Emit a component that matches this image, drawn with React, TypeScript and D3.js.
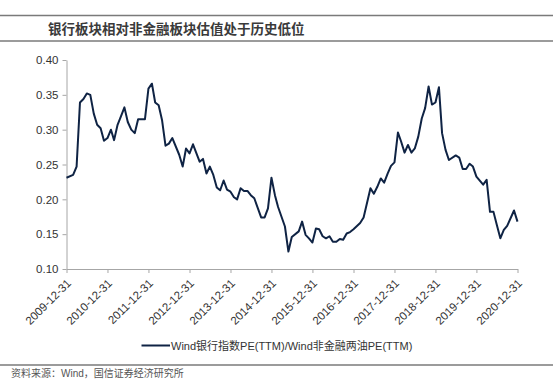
import React, { useEffect, useRef } from 'react'
import * as d3 from 'd3'

// month (end of month) and Wind bank PE / non-financial ex-oil PE
const months = [
  '2009-12', '2010-02', '2010-03', '2010-04', '2010-05', '2010-06', '2010-07', '2010-08', '2010-09', '2010-10', '2010-11', '2010-12',
  '2011-01', '2011-02', '2011-03', '2011-04', '2011-05', '2011-06', '2011-07', '2011-08', '2011-09', '2011-11', '2011-12',
  '2012-01', '2012-02', '2012-03', '2012-04', '2012-05', '2012-06', '2012-07', '2012-09', '2012-10', '2012-11', '2012-12',
  '2013-01', '2013-03', '2013-04', '2013-05', '2013-06', '2013-07', '2013-08', '2013-09', '2013-10', '2013-11', '2013-12',
  '2014-01', '2014-02', '2014-03', '2014-04', '2014-05', '2014-06', '2014-07', '2014-09', '2014-10', '2014-11', '2014-12',
  '2015-01', '2015-02', '2015-04', '2015-05', '2015-06', '2015-08', '2015-09', '2015-10', '2015-11', '2015-12',
  '2016-01', '2016-02', '2016-03', '2016-04', '2016-05', '2016-06', '2016-07', '2016-08', '2016-09', '2016-10', '2016-11', '2016-12',
  '2017-02', '2017-03', '2017-05', '2017-06', '2017-07', '2017-08', '2017-09', '2017-10', '2017-11', '2017-12',
  '2018-01', '2018-02', '2018-03', '2018-04', '2018-05', '2018-06', '2018-07', '2018-08', '2018-09', '2018-10', '2018-11', '2018-12',
  '2019-01', '2019-02', '2019-03', '2019-04', '2019-06', '2019-07', '2019-08', '2019-09', '2019-10', '2019-11', '2019-12',
  '2020-02', '2020-03', '2020-04', '2020-05', '2020-06', '2020-07', '2020-08', '2020-09', '2020-11', '2020-12',
]

const ratio = [
  0.231, 0.235, 0.247, 0.339, 0.344, 0.352, 0.350, 0.323, 0.307, 0.302, 0.284, 0.288,
  0.300, 0.285, 0.307, 0.319, 0.332, 0.311, 0.300, 0.295, 0.315, 0.315, 0.359,
  0.366, 0.339, 0.335, 0.314, 0.277, 0.280, 0.288, 0.264, 0.247, 0.273, 0.266,
  0.279, 0.254, 0.258, 0.237, 0.247, 0.235, 0.217, 0.213, 0.227, 0.214, 0.211,
  0.203, 0.200, 0.216, 0.212, 0.212, 0.206, 0.2015, 0.174, 0.174, 0.187, 0.231,
  0.206, 0.189, 0.161, 0.125, 0.146, 0.154, 0.168, 0.149, 0.144, 0.138,
  0.158, 0.157, 0.147, 0.144, 0.147, 0.139, 0.139, 0.143, 0.142, 0.151, 0.153, 0.157,
  0.166, 0.174, 0.216, 0.208, 0.218, 0.230, 0.224, 0.237, 0.248, 0.253,
  0.296, 0.283, 0.267, 0.278, 0.267, 0.273, 0.290, 0.316, 0.331, 0.362, 0.336, 0.339,
  0.361, 0.295, 0.271, 0.2565, 0.263, 0.260, 0.2435, 0.2435, 0.251, 0.247, 0.2325,
  0.221, 0.228, 0.182, 0.182, 0.163, 0.144, 0.156, 0.162, 0.184, 0.168,
]

const yTicks = [0.1, 0.15, 0.2, 0.25, 0.3, 0.35, 0.4]
const yearEnds = ['2009-12-31', '2010-12-31', '2011-12-31', '2012-12-31', '2013-12-31', '2014-12-31',
  '2015-12-31', '2016-12-31', '2017-12-31', '2018-12-31', '2019-12-31', '2020-12-31']

const title = '银行板块相对非金融板块估值处于历史低位'
const legendLabel = 'Wind银行指数PE(TTM)/Wind非金融两油PE(TTM)'
const source = '资料来源：Wind，国信证券经济研究所'

const W = 553
const H = 390
const latin = 'Arial, "Liberation Sans", sans-serif'
const cjk = '"Liberation Sans", "Noto Sans CJK SC", sans-serif'

const monthEnd = (s: string) => {
  const [y, m] = s.split('-').map(Number)
  return new Date(y, m, 0)
}
const parseDay = d3.timeParse('%Y-%m-%d')

export default function App() {
  const ref = useRef<SVGSVGElement>(null)

  useEffect(() => {
    const svg = d3.select(ref.current)
    svg.selectAll('*').remove()

    const ticks = yearEnds.map(d => parseDay(d) as Date)
    const x = d3.scaleTime()
      .domain([ticks[0], ticks[ticks.length - 1]])
      .range([66.5, 517.5])
    const y = d3.scaleLinear().domain([0.1, 0.4]).range([269, 60])

    svg.append('rect').attr('width', W).attr('height', H).attr('fill', '#fff')

    // header rules and title
    svg.append('line').attr('x1', 0).attr('x2', W).attr('y1', 15.5).attr('y2', 15.5)
      .attr('stroke', '#7a7a7a').attr('stroke-width', 1.5)
    svg.append('line').attr('x1', 0).attr('x2', W).attr('y1', 41).attr('y2', 41)
      .attr('stroke', '#7a7a7a').attr('stroke-width', 1.5)
    svg.append('text').attr('x', 48).attr('y', 33.5)
      .attr('font-family', cjk).attr('font-size', 13.5).attr('font-weight', 700)
      .attr('fill', '#3a3a3a').text(title)

    // y axis
    const yAxis = svg.append('g')
      .attr('transform', `translate(${x.range()[0]},0)`)
      .call(d3.axisLeft(y).tickValues(yTicks).tickFormat(d3.format('.2f')).tickSize(4).tickSizeOuter(0))
    yAxis.select('.domain').attr('stroke', '#a6a6a6')
    yAxis.selectAll('line').attr('stroke', '#a6a6a6')
    yAxis.selectAll('text').attr('font-family', latin).attr('font-size', 11.5)
      .attr('fill', '#333').attr('x', -8)

    // x axis
    const xAxis = svg.append('g')
      .attr('transform', `translate(0,${y.range()[0]})`)
      .call(d3.axisBottom(x).tickValues(ticks).tickFormat(d3.timeFormat('%Y-%m-%d')).tickSize(4).tickSizeOuter(0))
    xAxis.select('.domain').attr('stroke', '#a6a6a6')
    xAxis.selectAll('line').attr('stroke', '#a6a6a6')
    xAxis.selectAll('text')
      .attr('font-family', latin).attr('font-size', 11.5).attr('fill', '#333')
      .attr('text-anchor', 'end')
      .attr('dy', '0.35em')
      .attr('transform', 'translate(2,12) rotate(-45)')
      .attr('x', 0).attr('y', 0)

    // series
    const pts = months.map((m, i) => ({ date: monthEnd(m), value: ratio[i] }))
    const line = d3.line<{ date: Date, value: number }>()
      .x(d => x(d.date))
      .y(d => y(d.value))
    svg.append('path').datum(pts)
      .attr('d', line)
      .attr('fill', 'none')
      .attr('stroke', '#0f2344')
      .attr('stroke-width', 2)
      .attr('stroke-linejoin', 'round')

    // legend
    svg.append('line').attr('x1', 141.5).attr('x2', 170).attr('y1', 345.5).attr('y2', 345.5)
      .attr('stroke', '#0f2344').attr('stroke-width', 2)
    svg.append('text').attr('x', 171).attr('y', 349.5)
      .attr('font-family', cjk).attr('font-size', 11).attr('fill', '#333')
      .text(legendLabel)

    // footer
    svg.append('line').attr('x1', 0).attr('x2', W).attr('y1', 365).attr('y2', 365)
      .attr('stroke', '#7a7a7a').attr('stroke-width', 1.5)
    svg.append('text').attr('x', 11).attr('y', 377)
      .attr('font-family', cjk).attr('font-size', 10).attr('fill', '#555')
      .text(source)
  }, [])

  return (
    <svg ref={ref} width={W} height={H} style={{ position: 'absolute', left: 0, top: 0 }} />
  )
}
